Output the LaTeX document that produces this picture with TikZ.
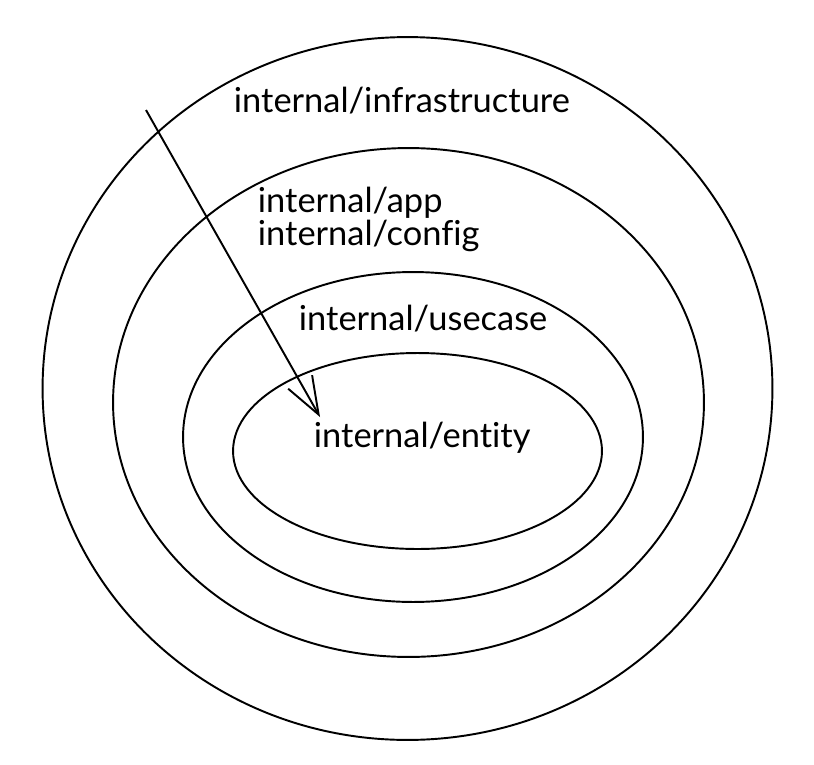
\documentclass[tikz,border=0pt]{standalone}
\usepackage{fontspec}
\setmainfont[Ligatures=NoCommon]{Lato}
\usetikzlibrary{arrows.meta,positioning,shapes.geometric}

\begin{document}
\begin{tikzpicture}[x=0.02cm, y=-0.02cm, line width=1.1pt,
    ring/.style={draw, ellipse, inner sep=0pt, outer sep=0pt},
    layertext/.style={anchor=base west, inner sep=0pt, font=\fontsize{19.6}{23}\selectfont}]
    \useasboundingbox (0,0) rectangle (814,764);

    % Layers, from outside in
    \node[ring, minimum width=14.6cm, minimum height=14.06cm] (infra) at (407.5,388.5) {};
    \node[ring, minimum width=11.82cm, minimum height=10.18cm] (app) at (408.5,402.5) {};
    \node[ring, minimum width=9.2cm, minimum height=6.6cm] (usecase) at (413,437) {};
    \node[ring, minimum width=7.38cm, minimum height=3.92cm] (entity) at (417.5,451) {};

    % Layer names
    \node[layertext] (infraname) at (233,112) {internal/infrastructure};
    \node[layertext] (appname) at (257,212) {internal/app};
    \node[layertext] (configname) at (257,245) {internal/config};
    \node[layertext] (usecasename) at (298,330) {internal/usecase};
    \node[layertext] (entityname) at (313,447) {internal/entity};

    % Dependency direction
    \coordinate (src) at (146,110);
    \coordinate (tip) at (320,417);
    \draw[-{Straight Barb[length=7.5mm, width=5.5mm]}] (src) -- (tip);
\end{tikzpicture}
\end{document}
